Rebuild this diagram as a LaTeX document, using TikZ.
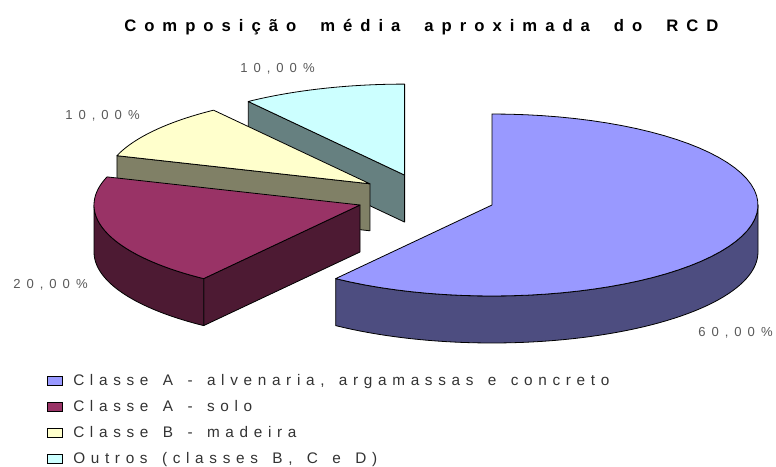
\documentclass[tikz,border=0pt]{standalone}
\usepackage{fontspec}
\setmainfont{Liberation Sans}
\newfontfamily\spacedfont[LetterSpace=37,WordSpace=1.45]{Liberation Sans}
\newfontfamily\pctfont[LetterSpace=46]{Liberation Sans}
\newfontfamily\titlefont[LetterSpace=48,WordSpace=1.9]{Liberation Sans}
\usetikzlibrary{positioning}

\definecolor{bluetop}{HTML}{9999FF}
\definecolor{blueside}{HTML}{4D4D80}
\definecolor{redtop}{HTML}{993366}
\definecolor{redside}{HTML}{4D1A33}
\definecolor{yellowtop}{HTML}{FFFFCC}
\definecolor{yellowside}{HTML}{808066}
\definecolor{cyantop}{HTML}{CCFFFF}
\definecolor{cyanside}{HTML}{668080}

\begin{document}
\begin{tikzpicture}[x=0.75pt, y=-0.75pt, samples=60,
    face/.style={draw=black, line width=0.6pt, line join=round},
    pct/.style={inner sep=0pt, anchor=base west, text=black!65,
        font=\pctfont\fontsize{9.8}{11}\selectfont},
    legtxt/.style={inner sep=0pt, anchor=base west, text=black!80,
        font=\spacedfont\fontsize{11.5}{13}\selectfont},
    key/.style={draw=black, line width=0.7pt, inner sep=0pt,
        minimum width=11.5pt, minimum height=6.7pt}]
    \useasboundingbox (0,0) rectangle (776,467);
    \fill[white] (0,0) rectangle (776,467);
    \def\rx{266}\def\ry{91}\def\pieh{47}

    \node[inner sep=0pt, anchor=base west, font=\titlefont\bfseries\fontsize{12.5}{14}\selectfont]
        (title) at (124,32) {Composição média aproximada do RCD};

    % outros, 10%
    \filldraw[face, fill=cyanside] (404.6,175.1) -- ({404.6+\rx*cos(126)},{175.1-\ry*sin(126)})
        -- ++(0,\pieh) -- (404.6,175.1+\pieh) -- cycle;
    \filldraw[face, fill=cyantop] (404.6,175.1)
        -- plot[domain=90:126] ({404.6+\rx*cos(\x)},{175.1-\ry*sin(\x)}) -- cycle;

    % madeira, 10%
    \filldraw[face, fill=yellowside] (369.9,183.8) -- ({369.9+\rx*cos(162)},{183.8-\ry*sin(162)})
        -- ++(0,\pieh) -- (369.9,183.8+\pieh) -- cycle;
    \filldraw[face, fill=yellowtop] (369.9,183.8)
        -- plot[domain=126:162] ({369.9+\rx*cos(\x)},{183.8-\ry*sin(\x)}) -- cycle;

    % solo, 20%
    \filldraw[face, fill=redside] (360,205) -- ({360+\rx*cos(234)},{205-\ry*sin(234)})
        -- ++(0,\pieh) -- (360,205+\pieh) -- cycle;
    \filldraw[face, fill=redside] plot[domain=180:234] ({360+\rx*cos(\x)},{205-\ry*sin(\x)})
        -- plot[domain=234:180] ({360+\rx*cos(\x)},{205+\pieh-\ry*sin(\x)}) -- cycle;
    \filldraw[face, fill=redtop] (360,205)
        -- plot[domain=162:234] ({360+\rx*cos(\x)},{205-\ry*sin(\x)}) -- cycle;

    % alvenaria, 60%
    \filldraw[face, fill=blueside] plot[domain=234:360] ({492+\rx*cos(\x)},{205-\ry*sin(\x)})
        -- plot[domain=360:234] ({492+\rx*cos(\x)},{205+\pieh-\ry*sin(\x)}) -- cycle;
    \filldraw[face, fill=bluetop] (492,205)
        -- plot[domain=-126:90] ({492+\rx*cos(\x)},{205-\ry*sin(\x)}) -- cycle;

    \node[pct] (p60) at (698,336) {60,00\%};
    \node[pct] (p20) at (13,288) {20,00\%};
    \node[pct] (p10m) at (65,120) {10,00\%};
    \node[pct] (p10o) at (240,73) {10,00\%};

    \foreach \txt/\col [count=\n, evaluate={\yb=385+26*(\n-1);}] in
        {{Classe A - alvenaria, argamassas e concreto}/bluetop,
         {Classe A - solo}/redtop,
         {Classe B - madeira}/yellowtop,
         {Outros (classes B, C e D)}/cyantop}
        {\node[key, fill=\col] (k\n) at (55,\yb-4) {};
         \node[legtxt] (l\n) at (73,\yb) {\txt};}
\end{tikzpicture}
\end{document}
